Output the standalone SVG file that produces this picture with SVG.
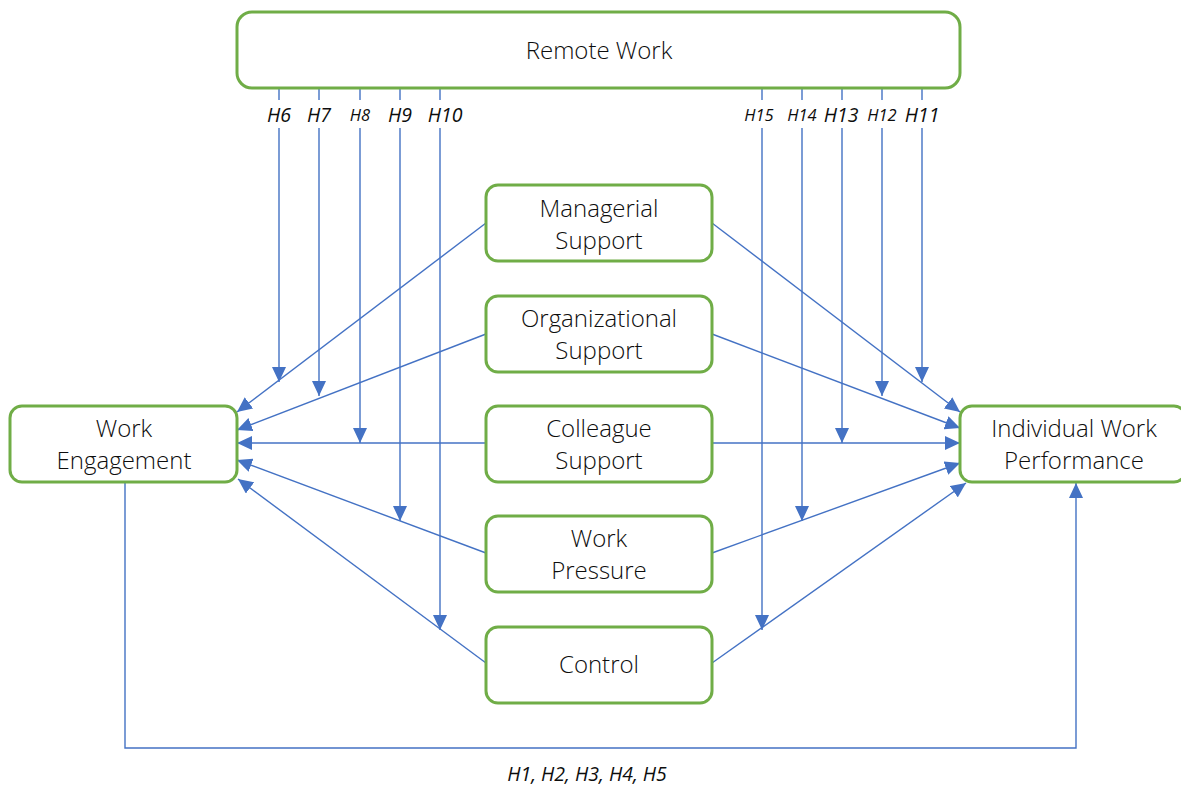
<svg xmlns="http://www.w3.org/2000/svg" width="1181" height="785" viewBox="0 0 1181 785">
<style>
.box{fill:#fff;stroke:#70AD47;stroke-width:3}
.t{font-family:"Open Sans","Noto Sans",sans-serif;font-weight:300;font-size:24px;fill:#0d0d0d;text-anchor:middle}
.h{font-family:"Open Sans","Noto Sans",sans-serif;font-style:italic;font-size:19.5px;fill:#0d0d0d;text-anchor:middle}
.hs{font-size:16.5px}
.c{fill:none;stroke:#4472C4;stroke-width:1.4}
</style>
<defs>
<marker id="a" markerUnits="userSpaceOnUse" markerWidth="16" markerHeight="14" refX="15" refY="7" orient="auto">
<path d="M0,0 L15,7 L0,14 Z" fill="#4472C4"/>
</marker>
</defs>
<g id="connectors">
<path class="c" d="M279,88V100M279,128V382" marker-end="url(#a)"/>
<path class="c" d="M319,88V100M319,128V396" marker-end="url(#a)"/>
<path class="c" d="M360,88V100M360,128V443" marker-end="url(#a)"/>
<path class="c" d="M400,88V100M400,128V521" marker-end="url(#a)"/>
<path class="c" d="M440,88V100M440,128V630" marker-end="url(#a)"/>
<path class="c" d="M762,88V100M762,128V630" marker-end="url(#a)"/>
<path class="c" d="M802,88V100M802,128V521" marker-end="url(#a)"/>
<path class="c" d="M842,88V100M842,128V443" marker-end="url(#a)"/>
<path class="c" d="M882,88V100M882,128V396" marker-end="url(#a)"/>
<path class="c" d="M922,88V100M922,128V382" marker-end="url(#a)"/>
<path class="c" d="M486,223L237,412" marker-end="url(#a)"/>
<path class="c" d="M486,334L237,430" marker-end="url(#a)"/>
<path class="c" d="M486,443L237,443" marker-end="url(#a)"/>
<path class="c" d="M486,553L237,460" marker-end="url(#a)"/>
<path class="c" d="M486,663L238,479" marker-end="url(#a)"/>
<path class="c" d="M712,223L960,412" marker-end="url(#a)"/>
<path class="c" d="M712,334L960,428" marker-end="url(#a)"/>
<path class="c" d="M712,443L960,443" marker-end="url(#a)"/>
<path class="c" d="M712,553L960,463" marker-end="url(#a)"/>
<path class="c" d="M712,663L966,483" marker-end="url(#a)"/>
<path class="c" d="M125,482V748H1076V483" marker-end="url(#a)"/>
</g>
<g id="labels">
<text class="h" x="279" y="122">H6</text>
<text class="h" x="319" y="122">H7</text>
<text class="h hs" x="360" y="121">H8</text>
<text class="h" x="400" y="122">H9</text>
<text class="h" x="445" y="122">H10</text>
<text class="h hs" x="759" y="121">H15</text>
<text class="h hs" x="802" y="121">H14</text>
<text class="h" x="841" y="122">H13</text>
<text class="h hs" x="882" y="121">H12</text>
<text class="h" x="922" y="122">H11</text>
<text class="h" x="587" y="781">H1, H2, H3, H4, H5</text>
</g>
<g id="remote-work">
<rect class="box" x="237" y="12" width="723" height="76" rx="15"/>
<text class="t" x="599" y="59">Remote Work</text>
</g>
<g id="work-engagement">
<rect class="box" x="10" y="406" width="227" height="76" rx="12"/>
<text class="t" x="124" y="437">Work</text>
<text class="t" x="124" y="469">Engagement</text>
</g>
<g id="individual-work-performance">
<rect class="box" x="960" y="406" width="226" height="76" rx="12"/>
<text class="t" x="1074" y="437">Individual Work</text>
<text class="t" x="1074" y="469">Performance</text>
</g>
<g id="managerial-support">
<rect class="box" x="486" y="185" width="226" height="76" rx="12"/>
<text class="t" x="599" y="217">Managerial</text>
<text class="t" x="599" y="249">Support</text>
</g>
<g id="organizational-support">
<rect class="box" x="486" y="296" width="226" height="76" rx="12"/>
<text class="t" x="599" y="327">Organizational</text>
<text class="t" x="599" y="359">Support</text>
</g>
<g id="colleague-support">
<rect class="box" x="486" y="406" width="226" height="76" rx="12"/>
<text class="t" x="599" y="437">Colleague</text>
<text class="t" x="599" y="469">Support</text>
</g>
<g id="work-pressure">
<rect class="box" x="486" y="516" width="226" height="76" rx="12"/>
<text class="t" x="599" y="547">Work</text>
<text class="t" x="599" y="579">Pressure</text>
</g>
<g id="control">
<rect class="box" x="486" y="627" width="226" height="76" rx="12"/>
<text class="t" x="599" y="673">Control</text>
</g>
</svg>
